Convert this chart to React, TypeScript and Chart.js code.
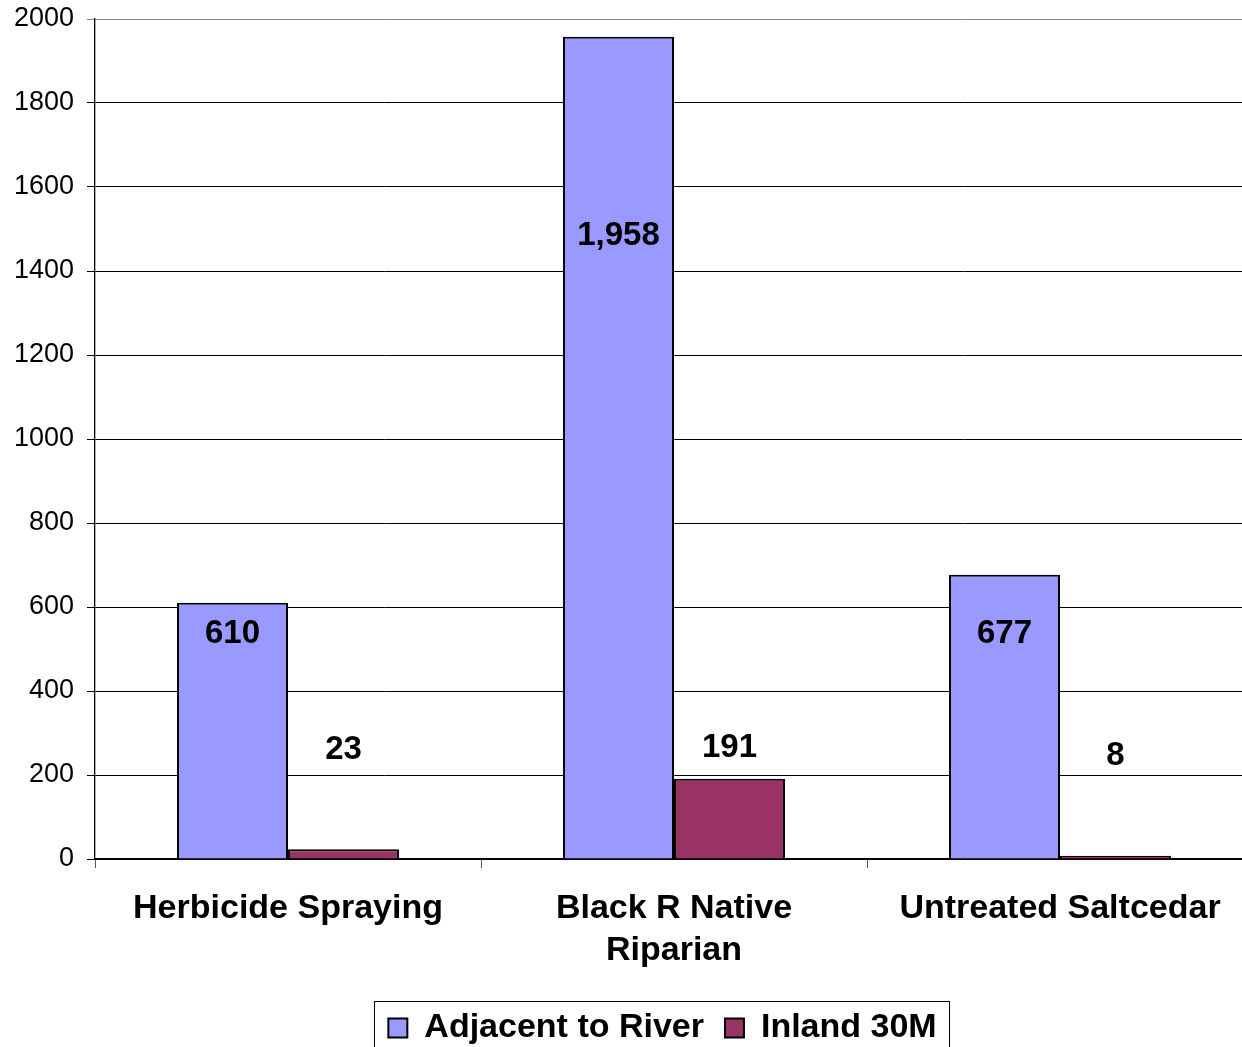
import React, { useEffect, useRef } from "react";
import { Chart, registerables } from "chart.js";

Chart.register(...registerables);

const categories: (string | string[])[] = [
  "Herbicide Spraying",
  ["Black R Native", "Riparian"],
  "Untreated Saltcedar",
];
const adjacentValues = [610, 1958, 677];
const inlandValues = [23, 191, 8];
// value-axis positions where each data label sits
const adjacentLabelAt = [536, 1483, 536];
const inlandLabelAt = [260, 264, 245];
const seriesNames = ["Adjacent to River", "Inland 30M"];
const yTicks = [0, 200, 400, 600, 800, 1000, 1200, 1400, 1600, 1800, 2000];

const FONT = "'Liberation Sans', Arial, sans-serif";

const dataLabelPlugin = {
  id: "dataLabels",
  afterDatasetsDraw(chart: any) {
    const { ctx } = chart;
    const yScale = chart.scales.y;
    const labelPos = [adjacentLabelAt, inlandLabelAt];
    ctx.save();
    ctx.font = `bold 33px ${FONT}`;
    ctx.fillStyle = "#000";
    ctx.textAlign = "center";
    ctx.textBaseline = "middle";
    chart.data.datasets.forEach((ds: any, di: number) => {
      const meta = chart.getDatasetMeta(di);
      meta.data.forEach((bar: any, i: number) => {
        const v = ds.data[i] as number;
        const y = yScale.getPixelForValue(labelPos[di][i]);
        ctx.fillText(v.toLocaleString("en-US"), bar.x, y);
      });
    });
    ctx.restore();
  },
};

const legendBorderPlugin = {
  id: "legendBorder",
  afterLayout(chart: any) {
    const lg = chart.legend;
    if (!lg) return;
    lg.left += 36;
    lg.right += 36;
  },
  afterDraw(chart: any) {
    const lg = chart.legend;
    if (!lg || !lg.legendHitBoxes || !lg.legendHitBoxes.length) return;
    const boxes = lg.legendHitBoxes;
    const first = boxes[0];
    const last = boxes[boxes.length - 1];
    const left = first.left - 14;
    const right = last.left + last.width + 13;
    const cy = first.top + first.height / 2;
    const top = cy - 27;
    const bottom = cy + 27;
    const { ctx } = chart;
    ctx.save();
    ctx.strokeStyle = "#000";
    ctx.lineWidth = 1;
    ctx.strokeRect(Math.round(left) + 0.5, Math.round(top) + 0.5, Math.round(right - left), Math.round(bottom - top));
    ctx.restore();
  },
};

export default function App() {
  const ref = useRef<HTMLCanvasElement | null>(null);

  useEffect(() => {
    if (!ref.current) return;
    const chart = new Chart(ref.current, {
      type: "bar",
      data: {
        labels: categories,
        datasets: [
          {
            label: seriesNames[0],
            data: adjacentValues,
            backgroundColor: "#9999FF",
            borderColor: "#000",
            borderWidth: 2,
          },
          {
            label: seriesNames[1],
            data: inlandValues,
            backgroundColor: "#993366",
            borderColor: "#000",
            borderWidth: 2,
          },
        ],
      },
      options: {
        responsive: false,
        animation: false,
        layout: { padding: { top: 19, right: 1, left: 0, bottom: 0 } },
        datasets: {
          bar: { categoryPercentage: 0.575, barPercentage: 1.0 },
        },
        plugins: {
          tooltip: { enabled: false },
          legend: {
            position: "bottom",
            labels: {
              boxWidth: 19,
              boxHeight: 19,
              padding: 21,
              color: "#000",
              font: { family: FONT, size: 34, weight: "bold" },
            },
          },
        },
        scales: {
          x: {
            afterFit: (s: any) => {
              s.height = 131;
            },
            grid: {
              display: true,
              drawOnChartArea: false,
              drawTicks: true,
              tickLength: 9,
              color: "#555",
              offset: true,
            },
            border: { display: true, color: "#000", width: 1.3 },
            ticks: {
              color: "#000",
              padding: 19,
              maxRotation: 0,
              autoSkip: false,
              font: { family: FONT, size: 34, weight: "bold", lineHeight: 1.25 },
            },
          },
          y: {
            min: 0,
            max: 2000,
            afterFit: (s: any) => {
              s.width = 95;
              s.paddingTop = 0;
              s.paddingBottom = 0;
            },
            afterBuildTicks: (s: any) => {
              s.ticks = yTicks.map((v) => ({ value: v }));
            },
            grid: {
              color: (c: any) => (c.tick && c.tick.value === 2000 ? "#888" : "#000"),
              lineWidth: 1,
              tickLength: 8,
            },
            border: { display: true, color: "#000", width: 1.3 },
            ticks: {
              color: "#000",
              padding: 13,
              font: { family: FONT, size: 27 },
              callback: (v: any) => String(v),
            },
          },
        },
      },
      plugins: [dataLabelPlugin, legendBorderPlugin],
    });
    return () => chart.destroy();
  }, []);

  return (
    <div
      style={{
        position: "fixed",
        left: 0,
        top: 0,
        width: 1242,
        height: 1047,
        overflow: "hidden",
        background: "#fff",
      }}
    >
      <canvas ref={ref} width={1254} height={1055} style={{ display: "block" }} />
    </div>
  );
}
